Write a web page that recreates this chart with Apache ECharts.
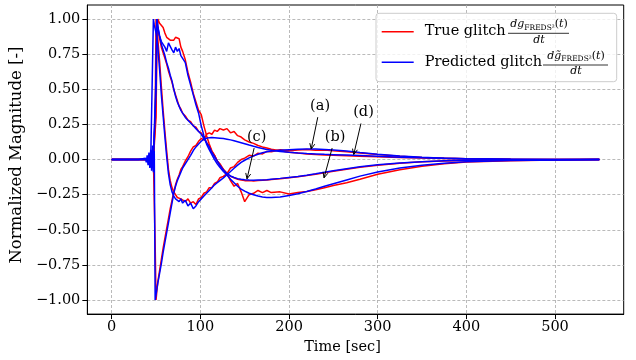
<!DOCTYPE html>
<html>
<head>
<meta charset="utf-8">
<script src="https://cdn.jsdelivr.net/npm/echarts@6/dist/echarts.min.js"></script>
<style>
  html, body { margin: 0; padding: 0; background: #fff; }
  #chart { width: 636px; height: 360px; }
</style>
</head>
<body>
<div id="chart"></div>
<script>
const FONT = 'DejaVu Serif'

// time axis shared by every curve (seconds)
const times = [
  0, 30, 38, 39,
  40, 41, 42, 43, 44, 45, 46, 47, 48, 49, 50, 51, 52,
  54, 56, 58, 60, 62, 64, 66, 68, 70, 72, 74, 76, 78, 80,
  83, 86, 89, 92, 95, 98, 101, 104, 107, 110,
  113, 116, 119, 122,
  126, 130, 134, 138, 142, 146, 150,
  155, 160, 165, 170, 175, 180,
  190, 200, 210, 220, 230, 240, 250,
  265, 280, 300,
  325, 350, 375, 400,
  450, 500, 550
]

// (a) fast positive spike
const trueA = [
  0, 0, 0, 0,
  0, 0, 0, 0, 0, 0, 0, 0, 0, 0.3, 1.0, 0.93, 0.86,
  0.7, 0.52, 0.35, 0.2, 0.06, -0.07, -0.15, -0.2, -0.23, -0.25, -0.27, -0.26, -0.28, -0.27,
  -0.3, -0.28, -0.31, -0.3, -0.32, -0.28, -0.27, -0.24, -0.23, -0.2,
  -0.2, -0.17, -0.16, -0.13,
  -0.12, -0.1, -0.06, -0.05, -0.02, 0.0, 0.01,
  0.03, 0.025, 0.045, 0.04, 0.058, 0.055,
  0.07, 0.062, 0.068, 0.072, 0.066, 0.068, 0.062,
  0.055, 0.046, 0.036,
  0.024, 0.015, 0.01, 0.006,
  0.002, 0.001, 0
]
const predA = [
  0, 0, 0, 0,
  0, 0, 0, 0, 0, 0, 0, 1.0, 0.96, 0.93, 0.9, 0.86, 0.8,
  0.64, 0.46, 0.31, 0.16, 0.02, -0.1, -0.18, -0.23, -0.26, -0.28, -0.27, -0.3, -0.28, -0.31,
  -0.29, -0.33, -0.31, -0.35, -0.33, -0.3, -0.28, -0.26, -0.24, -0.22,
  -0.2, -0.18, -0.165, -0.15,
  -0.13, -0.108, -0.085, -0.062, -0.04, -0.02, -0.005,
  0.012, 0.026, 0.038, 0.048, 0.055, 0.06,
  0.066, 0.07, 0.073, 0.075, 0.075, 0.072, 0.068,
  0.06, 0.05, 0.038,
  0.025, 0.016, 0.01, 0.006,
  0.002, 0.001, 0
]

// (b) plateau then deep undershoot
const trueB = [
  0, 0, 0, 0,
  0, 0, 0, 0, 0, 0, 0, 0, 0, 0, 0.3, 0.85, 1.0,
  0.97, 0.96, 0.94, 0.9, 0.87, 0.86, 0.85, 0.86, 0.85, 0.87, 0.88, 0.86, 0.8, 0.77,
  0.71, 0.62, 0.55, 0.47, 0.41, 0.35, 0.32, 0.24, 0.17, 0.11,
  0.06, 0.03, -0.01, -0.04,
  -0.07, -0.1, -0.15, -0.19, -0.17, -0.23, -0.3,
  -0.25, -0.24, -0.22, -0.235, -0.22, -0.235,
  -0.23, -0.245, -0.235, -0.228, -0.215, -0.2, -0.185,
  -0.165, -0.14, -0.105,
  -0.072, -0.048, -0.03, -0.018,
  -0.008, -0.003, 0
]
const predB = [
  0, 0, 0, 0,
  0, 0, 0, 0, 0, 0, 0, 0, 0, 0, 0.6, 1.0, 0.94,
  0.88, 0.84, 0.82, 0.8, 0.77, 0.83, 0.82, 0.78, 0.76, 0.8, 0.77, 0.79, 0.74, 0.72,
  0.69, 0.6, 0.53, 0.46, 0.39, 0.33, 0.24, 0.17, 0.11, 0.07,
  0.035, 0.0, -0.03, -0.055,
  -0.085, -0.11, -0.14, -0.165, -0.19, -0.21, -0.225,
  -0.24, -0.25, -0.26, -0.267, -0.27, -0.27,
  -0.266, -0.256, -0.243, -0.228, -0.21, -0.19, -0.172,
  -0.145, -0.118, -0.088,
  -0.06, -0.04, -0.026, -0.016,
  -0.007, -0.003, 0
]

// (c) gradual decay, shallow undershoot
const trueC = [
  0, 0, 0, 0,
  0, 0, 0, 0, 0, 0, 0, 0, 0, 0, 0.4, 0.97, 0.93,
  0.86, 0.8, 0.76, 0.72, 0.68, 0.63, 0.59, 0.55, 0.5, 0.46, 0.42, 0.38, 0.36, 0.33,
  0.31, 0.28, 0.27, 0.24, 0.23, 0.2, 0.19, 0.16, 0.12, 0.1,
  0.06, 0.03, -0.01, -0.03,
  -0.07, -0.1, -0.12, -0.13, -0.14, -0.145, -0.15,
  -0.15, -0.152, -0.15, -0.148, -0.145, -0.142,
  -0.137, -0.13, -0.122, -0.114, -0.104, -0.094, -0.084,
  -0.069, -0.055, -0.04,
  -0.026, -0.016, -0.01, -0.006,
  -0.002, -0.001, 0
]
const predC = [
  0, 0, 0, 0,
  0, 0, 0, 0, 0, 0, 0, 0, 0, 0, 0.5, 1.0, 0.95,
  0.88, 0.82, 0.78, 0.74, 0.69, 0.65, 0.6, 0.56, 0.5, 0.45, 0.41, 0.38, 0.35, 0.33,
  0.3, 0.28, 0.26, 0.24, 0.22, 0.2, 0.18, 0.15, 0.12, 0.09,
  0.05, 0.02, -0.01, -0.04,
  -0.075, -0.1, -0.117, -0.128, -0.136, -0.141, -0.144,
  -0.146, -0.147, -0.146, -0.145, -0.143, -0.14,
  -0.134, -0.127, -0.12, -0.111, -0.101, -0.09, -0.08,
  -0.065, -0.052, -0.037,
  -0.024, -0.015, -0.009, -0.005,
  -0.002, -0.001, 0
]

// (d) negative spike, positive overshoot
const trueD = [
  0, 0, 0, 0,
  0, 0, 0, 0, 0, 0, 0, 0, 0, -0.6, -1.0, -0.93, -0.87,
  -0.79, -0.71, -0.63, -0.56, -0.49, -0.42, -0.35, -0.29, -0.23, -0.18, -0.14, -0.11, -0.07, -0.05,
  -0.01, 0.02, 0.06, 0.09, 0.1, 0.13, 0.15, 0.14, 0.18, 0.19,
  0.18, 0.21, 0.2, 0.22,
  0.21, 0.22, 0.19, 0.2, 0.17, 0.16, 0.14,
  0.125, 0.115, 0.1, 0.09, 0.082, 0.074,
  0.062, 0.052, 0.046, 0.04, 0.036, 0.033, 0.03,
  0.027, 0.024, 0.02,
  0.015, 0.011, 0.008, 0.005,
  0.002, 0.001, 0
]
const predD = [
  0, 0, 0.01, -0.02,
  0.03, -0.04, 0.05, -0.06, 0.07, -0.08, 0.1, -0.09, 0.06, -1.0, -0.96, -0.92, -0.88,
  -0.81, -0.74, -0.66, -0.59, -0.52, -0.45, -0.38, -0.31, -0.24, -0.19, -0.15, -0.12, -0.09, -0.06,
  -0.03, 0.0, 0.03, 0.064, 0.09, 0.11, 0.13, 0.145, 0.152, 0.156,
  0.157, 0.156, 0.154, 0.152,
  0.149, 0.145, 0.14, 0.134, 0.127, 0.12, 0.113,
  0.103, 0.094, 0.086, 0.079, 0.072, 0.067,
  0.058, 0.052, 0.047, 0.043, 0.04, 0.037, 0.035,
  0.032, 0.029, 0.024,
  0.017, 0.012, 0.009, 0.006,
  0.003, 0.001, 0
]

const xTicks = [0, 100, 200, 300, 400, 500]
const yTicks = [-1, -0.75, -0.5, -0.25, 0, 0.25, 0.5, 0.75, 1]

// annotations: label, text anchor (data coords), arrow tip (data coords)
const annoLabels = ['(a)', '(b)', '(c)', '(d)']
const annoTextX = [235, 252, 163.5, 284]
const annoTextY = [0.38, 0.16, 0.16, 0.335]
const annoTipX = [225, 239.5, 152.6, 273]
const annoTipY = [0.075, -0.13, -0.137, 0.036]

const RED = '#ff0000'
const BLUE = '#0000ff'

const pairs = (vals) => times.map((t, i) => [t, vals[i]])

function curve (name, vals, color) {
  return {
    name,
    type: 'line',
    data: pairs(vals),
    showSymbol: false,
    symbol: 'none',
    color,
    lineStyle: { color, width: 1.5 },
    animation: false
  }
}

const annotationRender = function (params, api) {
  const c = api.coord([api.value(0), api.value(1)])
  const tip = api.coord([api.value(2), api.value(3)])
  const dx = tip[0] - c[0]
  const dy = tip[1] - c[1]
  const len = Math.hypot(dx, dy)
  const ux = dx / len
  const uy = dy / len
  const off = 11 / Math.abs(uy)
  const start = [c[0] + ux * off, c[1] + uy * off]
  const headLen = 6
  const ang = 25 * Math.PI / 180
  const rot = (a) => [ux * Math.cos(a) - uy * Math.sin(a), ux * Math.sin(a) + uy * Math.cos(a)]
  const r1 = rot(ang)
  const r2 = rot(-ang)
  const stroke = { stroke: '#000', lineWidth: 1, fill: null }

  return {
    type: 'group',
    children: [
      {
        type: 'text',
        style: {
          x: c[0],
          y: c[1],
          text: annoLabels[params.dataIndex],
          align: 'center',
          verticalAlign: 'middle',
          fontFamily: FONT,
          fontSize: 14.5,
          fill: '#000'
        }
      },
      {
        type: 'line',
        shape: { x1: start[0], y1: start[1], x2: tip[0], y2: tip[1] },
        style: stroke
      },
      {
        type: 'polyline',
        shape: {
          points: [
            [tip[0] - r1[0] * headLen, tip[1] - r1[1] * headLen],
            tip,
            [tip[0] - r2[0] * headLen, tip[1] - r2[1] * headLen]
          ]
        },
        style: stroke
      }
    ]
  }
}

const fracRich = {
  i: { fontFamily: FONT, fontStyle: 'italic', fontSize: 11, lineHeight: 13, verticalAlign: 'top' },
  n: { fontFamily: FONT, fontSize: 11, lineHeight: 13, verticalAlign: 'top' },
  s: { fontFamily: FONT, fontSize: 7.5, lineHeight: 9, verticalAlign: 'bottom' }
}

function fraction (cx, barY, x1, x2, numerator) {
  return [
    {
      type: 'text',
      z: 25,
      style: {
        x: cx,
        y: barY - 1.5,
        text: numerator,
        rich: fracRich,
        align: 'center',
        verticalAlign: 'bottom',
        fill: '#000'
      }
    },
    {
      type: 'line',
      z: 25,
      shape: { x1, y1: barY, x2, y2: barY },
      style: { stroke: '#000', lineWidth: 0.8 }
    },
    {
      type: 'text',
      z: 25,
      style: {
        x: cx,
        y: barY + 1,
        text: 'dt',
        fontFamily: FONT,
        fontStyle: 'italic',
        fontSize: 11,
        align: 'center',
        verticalAlign: 'top',
        fill: '#000'
      }
    }
  ]
}

const chart = echarts.init(document.getElementById('chart'), null, { renderer: 'canvas' })

const axisText = { fontFamily: FONT, fontSize: 14.5, color: '#000' }
const gridLine = { show: true, lineStyle: { color: '#a8a8a8', type: [3, 2], width: 0.8 } }

chart.setOption({
  backgroundColor: '#fff',
  animation: false,
  grid: {
    left: 87,
    top: 5,
    width: 536.7,
    height: 314,
    show: true,
    borderColor: '#000',
    borderWidth: 1,
    backgroundColor: 'transparent'
  },
  xAxis: {
    type: 'value',
    min: -27.5,
    max: 577.5,
    name: 'Time [sec]',
    nameLocation: 'middle',
    nameGap: 25,
    nameTextStyle: { fontFamily: FONT, fontSize: 14.5, color: '#000', padding: [0, 26, 0, 0] },
    axisLine: { show: true, onZero: false, lineStyle: { color: '#000', width: 1 } },
    axisTick: { show: true, length: 5, customValues: xTicks, lineStyle: { color: '#000', width: 1 } },
    axisLabel: { ...axisText, margin: 6, customValues: xTicks },
    splitLine: gridLine
  },
  yAxis: {
    type: 'value',
    min: -1.1,
    max: 1.1,
    name: 'Normalized Magnitude [-]',
    nameLocation: 'middle',
    nameGap: 53,
    nameTextStyle: { fontFamily: FONT, fontSize: 16.5, color: '#000', padding: [0, 0, 0, 9] },
    axisLine: { show: true, onZero: false, lineStyle: { color: '#000', width: 1 } },
    axisTick: { show: true, length: 5, customValues: yTicks, lineStyle: { color: '#000', width: 1 } },
    axisLabel: {
      ...axisText,
      margin: 7,
      customValues: yTicks,
      formatter: (v) => (v < 0 ? '\u2212' : '') + Math.abs(v).toFixed(2)
    },
    splitLine: gridLine
  },
  legend: {
    data: ['True glitch', 'Predicted glitch'],
    orient: 'vertical',
    left: 381.7,
    top: 16.4,
    padding: 0,
    itemGap: 0,
    itemWidth: 32,
    itemHeight: 1.5,
    icon: 'rect',
    z: 20,
    formatter: (n) => '{g|}{t|' + n + '}',
    textStyle: {
      fontFamily: FONT,
      fontSize: 14.5,
      color: '#000',
      lineHeight: 30.6,
      rich: {
        g: { width: 6, lineHeight: 30.6 },
        t: { fontFamily: FONT, fontSize: 14.5, color: '#000', lineHeight: 30.6 }
      }
    }
  },
  graphic: [
    {
      type: 'rect',
      z: 15,
      shape: { x: 376, y: 13.3, width: 240.7, height: 68.4, r: 3 },
      style: { fill: 'rgba(255,255,255,0.8)', stroke: '#cccccc', lineWidth: 1 }
    },
    ...fraction(539, 33.3, 508, 569, '{i|dg}{s|FREDS²}{n|(}{i|t}{n|)}'),
    ...fraction(576, 65, 543, 608, '{i|dg\u0303}{s|FREDS²}{n|(}{i|t}{n|)}')
  ],
  series: [
    curve('True glitch', trueA, RED),
    curve('True glitch', trueB, RED),
    curve('True glitch', trueC, RED),
    curve('True glitch', trueD, RED),
    curve('Predicted glitch', predA, BLUE),
    curve('Predicted glitch', predB, BLUE),
    curve('Predicted glitch', predC, BLUE),
    curve('Predicted glitch', predD, BLUE),
    {
      type: 'custom',
      coordinateSystem: 'cartesian2d',
      renderItem: annotationRender,
      data: annoLabels.map((l, i) => [annoTextX[i], annoTextY[i], annoTipX[i], annoTipY[i]]),
      silent: true,
      clip: false,
      z: 10,
      animation: false
    }
  ]
})
</script>
</body>
</html>
